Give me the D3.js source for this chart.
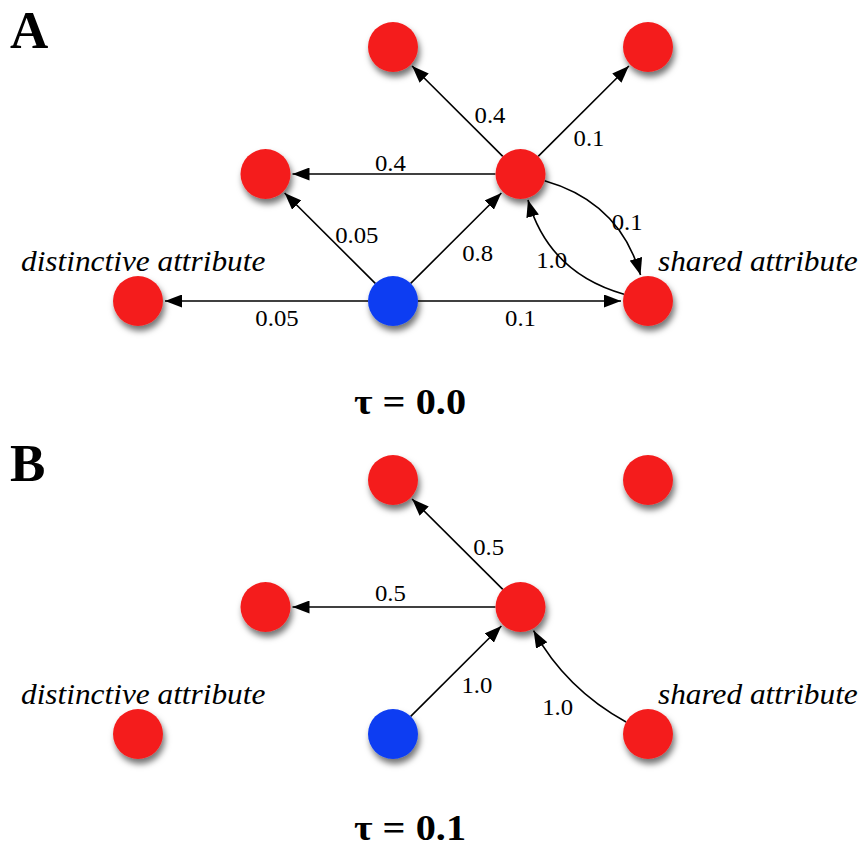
<!DOCTYPE html>
<html>
<head>
<meta charset="utf-8">
<script src="https://cdn.jsdelivr.net/npm/d3@7"></script>
<style>
body { margin: 0; background: #fff; }
</style>
</head>
<body>
<svg id="vis" width="865" height="853"></svg>
<script>
// nodes sit on a grid: column 0..4, row 0..2
var nodeIds  = ["up1", "up2", "left", "hub", "distinct", "cue", "shared"];
var nodeCol  = [2, 4, 1, 3, 0, 2, 4];
var nodeRow  = [0, 0, 1, 1, 2, 2, 2];
var cueNode  = "cue";

var panelLetters = ["A", "B"];
var panelTaus    = ["0.0", "0.1"];

// [from, to, weight]
var edgesA = [
  ["hub", "up1", "0.4"],
  ["hub", "up2", "0.1"],
  ["hub", "left", "0.4"],
  ["cue", "left", "0.05"],
  ["cue", "distinct", "0.05"],
  ["cue", "hub", "0.8"],
  ["cue", "shared", "0.1"],
  ["hub", "shared", "0.1"],
  ["shared", "hub", "1.0"]
];
var edgesB = [
  ["hub", "up1", "0.5"],
  ["hub", "left", "0.5"],
  ["cue", "hub", "1.0"],
  ["shared", "hub", "1.0"]
];
var attrNodes  = ["distinct", "shared"];
var attrLabels = ["distinctive attribute", "shared attribute"];

// layout tweaks (curvature, where weight labels sit along the edge)
var bendA  = [0, 0, 0, 0, 0, 0, 0, -50, -50];
var bendB  = [0, 0, 0, -26];
var placeA = [[0.35, 20], [0.41, 23], [0.51, 11], [0.40, 21], [0.455, -17], [0.52, 26], [0.5, 17], [0.61, -41], [0.54, -39]];
var placeB = [[0.36, 20], [0.51, 14], [0.52, 25], [0.46, -45]];
var panelTop = [0, 433];
var tauBase  = [414, 840];

var R = 25;
var serif = "'Liberation Serif', 'Times New Roman', serif";
var svg = d3.select("#vis");
var x = d3.scaleLinear().domain([0, 4]).range([138, 648]);
var y = d3.scaleLinear().domain([0, 2]).range([47, 301]);

var defs = svg.append("defs");
var f = defs.append("filter").attr("id", "shadow")
  .attr("x", "-50%").attr("y", "-50%").attr("width", "200%").attr("height", "220%");
f.append("feDropShadow").attr("dx", 2).attr("dy", 5).attr("stdDeviation", 3.2)
  .attr("flood-color", "#000").attr("flood-opacity", 0.55);
defs.append("marker").attr("id", "arrow")
  .attr("viewBox", "-17 -6.5 18 13")
  .attr("refX", 0).attr("refY", 0)
  .attr("markerWidth", 18).attr("markerHeight", 13)
  .attr("markerUnits", "userSpaceOnUse")
  .attr("orient", "auto")
  .append("path").attr("d", "M0,0L-17,-6.5L-17,6.5Z").attr("fill", "#000");

var nodes = nodeIds.map(function(id, i) {
  return {id: id, cx: x(nodeCol[i]), cy: y(nodeRow[i])};
});
var byId = {};
nodes.forEach(function(n) { byId[n.id] = n; });

function unit(dx, dy) {
  var l = Math.sqrt(dx * dx + dy * dy);
  return [dx / l, dy / l];
}
// the type in the figure is a bit stretched sideways
function stretch(px, py, sx) {
  return "translate(" + px + "," + py + ") scale(" + sx + ",1)";
}

function drawPanel(p, edges, bends, places) {
  var g = svg.append("g").attr("transform", "translate(0," + panelTop[p] + ")");

  var ed = edges.map(function(e, i) {
    var s = byId[e[0]], t = byId[e[1]];
    var u = unit(t.cx - s.cx, t.cy - s.cy), n = [-u[1], u[0]];
    var len = Math.hypot(t.cx - s.cx, t.cy - s.cy);
    var b = bends[i], d;
    if (b === 0) {
      d = "M" + (s.cx + u[0] * R) + "," + (s.cy + u[1] * R) +
          "L" + (t.cx - u[0] * (R + 2)) + "," + (t.cy - u[1] * (R + 2));
    } else {
      var c = [(s.cx + t.cx) / 2 + n[0] * b, (s.cy + t.cy) / 2 + n[1] * b];
      var us = unit(c[0] - s.cx, c[1] - s.cy), ut = unit(c[0] - t.cx, c[1] - t.cy);
      d = "M" + (s.cx + us[0] * R) + "," + (s.cy + us[1] * R) +
          "Q" + c[0] + "," + c[1] + " " +
          (t.cx + ut[0] * (R + 2)) + "," + (t.cy + ut[1] * (R + 2));
    }
    var pl = places[i];
    return {
      d: d, w: e[2],
      lx: s.cx + u[0] * len * pl[0] + n[0] * pl[1],
      ly: s.cy + u[1] * len * pl[0] + n[1] * pl[1]
    };
  });

  g.selectAll("path.edge").data(ed).enter().append("path")
    .attr("class", "edge")
    .attr("d", function(d) { return d.d; })
    .attr("fill", "none").attr("stroke", "#000").attr("stroke-width", 1.6)
    .attr("marker-end", "url(#arrow)");

  g.selectAll("text.w").data(ed).enter().append("text")
    .attr("class", "w")
    .attr("transform", function(d) { return stretch(d.lx, d.ly, 1.1); })
    .attr("text-anchor", "middle").attr("dominant-baseline", "central")
    .attr("font-family", serif)
    .attr("font-size", 22.5)
    .text(function(d) { return d.w; });

  g.selectAll("circle").data(nodes).enter().append("circle")
    .attr("cx", function(d) { return d.cx; })
    .attr("cy", function(d) { return d.cy; })
    .attr("r", R)
    .attr("fill", function(d) { return d.id === cueNode ? "#0c3ef2" : "#f41f1e"; })
    .attr("filter", "url(#shadow)");

  g.selectAll("text.attr").data(attrNodes).enter().append("text")
    .attr("class", "attr")
    .attr("transform", function(d, i) {
      return stretch(byId[d].cx + (i === 0 ? -117 : 10), byId[d].cy - 30, 1.08);
    })
    .attr("font-family", serif)
    .attr("font-style", "italic").attr("font-size", 29)
    .text(function(d, i) { return attrLabels[i]; });

  g.append("text")
    .attr("x", 10).attr("y", 48)
    .attr("font-family", serif)
    .attr("font-weight", "bold").attr("font-size", 53)
    .text(panelLetters[p]);

  svg.append("text")
    .attr("transform", stretch(410, tauBase[p], 1.12))
    .attr("text-anchor", "middle")
    .attr("font-family", serif)
    .attr("font-weight", "bold").attr("font-size", 36)
    .text("\u03c4 = " + panelTaus[p]);
}

drawPanel(0, edgesA, bendA, placeA);
drawPanel(1, edgesB, bendB, placeB);
</script>
</body>
</html>
